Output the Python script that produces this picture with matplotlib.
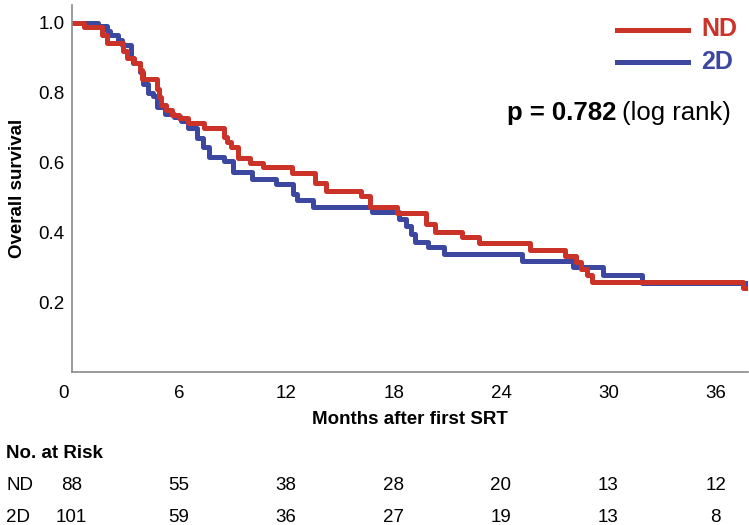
import matplotlib.pyplot as plt
import matplotlib.transforms as mtransforms

plt.rcParams['font.family'] = ['Liberation Sans', 'DejaVu Sans']

# Kaplan-Meier step data (months, survival)
nd_time = [0, 0.7, 1.7, 2.0, 2.9, 3.1, 3.5, 3.8, 3.95, 4.8, 4.9, 5.0, 5.3, 5.6, 6.0,
           6.5, 7.4, 8.5, 8.7, 8.9, 9.3, 10.0, 10.7, 12.3, 13.6, 14.2, 16.2, 16.7,
           18.2, 19.8, 20.3, 21.8, 22.8, 25.6, 27.6, 28.2, 28.5, 28.8, 29.1, 37.5, 37.8]
nd_surv = [1.0, 0.989, 0.966, 0.943, 0.920, 0.900, 0.886, 0.864, 0.840, 0.810, 0.787, 0.764,
           0.750, 0.736, 0.727, 0.713, 0.700, 0.674, 0.660, 0.645, 0.614, 0.600, 0.586,
           0.570, 0.540, 0.518, 0.504, 0.472, 0.455, 0.424, 0.400, 0.387, 0.370, 0.350,
           0.333, 0.316, 0.296, 0.277, 0.258, 0.240, 0.240]

td_time = [0, 1.5, 2.0, 2.15, 2.6, 2.8, 3.3, 3.45, 3.8, 4.0, 4.3, 4.55, 4.8, 5.2, 5.7,
           6.1, 6.5, 7.0, 7.35, 7.7, 8.5, 9.0, 10.1, 11.4, 12.4, 12.6, 13.5, 16.8, 18.3,
           18.7, 19.0, 19.2, 19.9, 20.8, 25.2, 28.0, 29.7, 31.9, 37.8]
td_surv = [1.0, 0.990, 0.977, 0.966, 0.950, 0.935, 0.900, 0.884, 0.860, 0.824, 0.800,
           0.790, 0.760, 0.740, 0.730, 0.720, 0.700, 0.670, 0.645, 0.617, 0.603, 0.574,
           0.552, 0.538, 0.510, 0.492, 0.472, 0.458, 0.438, 0.418, 0.396, 0.373, 0.359,
           0.339, 0.319, 0.302, 0.277, 0.254, 0.254]

risk_times = [0, 6, 12, 18, 24, 30, 36]
nd_risk = [88, 55, 38, 28, 20, 13, 12]
td_risk = [101, 59, 36, 27, 19, 13, 8]

red = '#CC3328'
blue = '#3C48A0'
fs = 13.5

fig = plt.figure(figsize=(7.49, 5.25), dpi=100)
ax = fig.add_axes([0.0955, 0.291, 0.903, 0.699])

ax.step(td_time, td_surv, where='post', color=blue, linewidth=3.6)
ax.step(nd_time, nd_surv, where='post', color=red, linewidth=3.6)

ax.set_xlim(0, 37.8)
ax.set_ylim(0, 1.05)
ax.set_xticks(risk_times)
ax.set_yticks([0.2, 0.4, 0.6, 0.8, 1.0])
ax.set_yticklabels(['0.2', '0.4', '0.6', '0.8', '1.0'])
ax.tick_params(axis='both', length=0, labelsize=fs)
ax.tick_params(axis='x', pad=9)
ax.tick_params(axis='y', pad=5)
for side in ['top', 'right']:
    ax.spines[side].set_visible(False)
for side in ['left', 'bottom']:
    ax.spines[side].set_color('#8a8a8a')
    ax.spines[side].set_linewidth(1.2)

# the "0" label sits a little left of the axis in the original
lbl0 = ax.get_xticklabels()[0]
lbl0.set_transform(lbl0.get_transform() + mtransforms.ScaledTranslation(-0.08, 0, fig.dpi_scale_trans))

ax.set_xlabel('Months after first SRT', fontsize=fs, fontweight='bold', labelpad=7)
ax.set_ylabel('Overall survival', fontsize=fs, fontweight='bold', labelpad=9)

# legend drawn by hand in figure pixels
def fx(px):
    return px / 749

def fy(py):
    return 1 - py / 525

fig.add_artist(plt.Line2D([fx(617), fx(688)], [fy(30), fy(30)], color=red, linewidth=3.6))
fig.add_artist(plt.Line2D([fx(617), fx(688)], [fy(62), fy(62)], color=blue, linewidth=3.6))
fig.text(fx(701), fy(29), 'ND', color=red, fontsize=18, fontweight='bold', va='center')
fig.text(fx(701), fy(62), '2D', color=blue, fontsize=18, fontweight='bold', va='center')

# p-value
t2 = fig.text(fx(731), fy(113), '(log rank)', fontsize=18.5, ha='right', va='center')
fig.canvas.draw()
bb = t2.get_window_extent()
fig.text((bb.x0 - 6) / fig.bbox.width, fy(113), 'p = 0.782', fontsize=18.5,
         fontweight='bold', ha='right', va='center')

# number at risk table
trans = mtransforms.blended_transform_factory(ax.transData, fig.transFigure)
fig.text(fx(6), fy(453), 'No. at Risk', fontsize=fs, fontweight='bold', va='center')
fig.text(fx(6), fy(486), 'ND', fontsize=fs, va='center')
fig.text(fx(6), fy(517), '2D', fontsize=fs, va='center')
for t, a, b in zip(risk_times, nd_risk, td_risk):
    ax.text(t, fy(486), str(a), transform=trans, fontsize=fs, ha='center', va='center')
    ax.text(t, fy(517), str(b), transform=trans, fontsize=fs, ha='center', va='center')

fig.savefig('out.png', dpi=100)
